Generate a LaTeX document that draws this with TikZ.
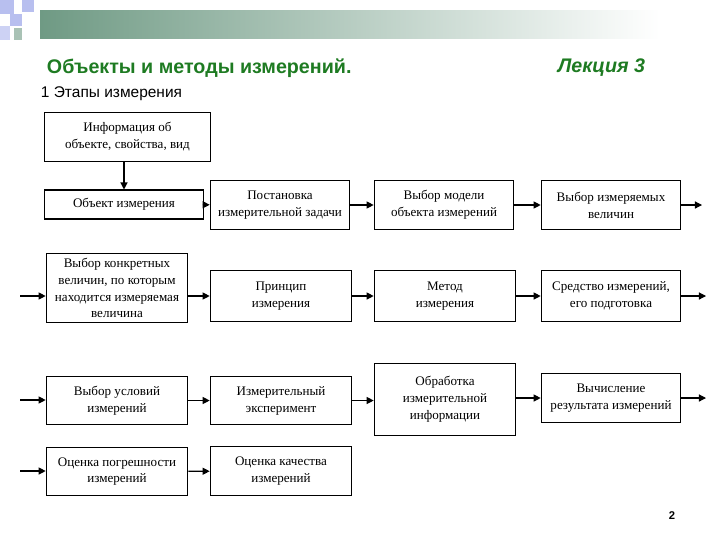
\documentclass[tikz,border=0pt]{standalone}
\usepackage{fontspec}
\setmainfont{Liberation Serif}
\newfontfamily\headfont{Liberation Sans}
\usetikzlibrary{arrows.meta, positioning}
\definecolor{titlegreen}{HTML}{1E7B22}
\definecolor{bargreen}{HTML}{6F9A84}
\definecolor{sqblue}{HTML}{B8BFEF}

\begin{document}
\begin{tikzpicture}[x=0.025cm,y=-0.025cm,
    stage/.style={draw, thick, align=center, inner sep=1pt,
        font=\fontsize{9.3}{12}\selectfont},
    size/.style 2 args={minimum width=#1*0.7087pt, minimum height=#2*0.7087pt},
    flow/.style={-{Triangle[length=5pt,width=5pt]}, thick}]
    \useasboundingbox (0,0) rectangle (720,540);
    % header decoration
    \shade[left color=bargreen, right color=white] (40,10) rectangle (660,38);
    \fill[sqblue] (0,0) rectangle (14,14);
    \fill[sqblue] (22,0) rectangle (34,12);
    \fill[sqblue] (10,14) rectangle (22,26);
    \fill[sqblue!70] (0,26) rectangle (10,40);
    \fill[bargreen!60] (14,28) rectangle (22,40);
    \node[anchor=west, text=titlegreen, font=\headfont\fontsize{14}{16}\selectfont\bfseries]
        (title) at (42,68) {Объекты и методы измерений.};
    \node[anchor=east, text=titlegreen, font=\headfont\fontsize{14}{16}\selectfont\bfseries\itshape]
        (lecture) at (650,68) {Лекция 3};
    \node[anchor=west, font=\headfont\fontsize{11}{13}\selectfont]
        (subtitle) at (36,94) {1 Этапы измерения};

    % row 1
    \node[stage, size={167}{50}] (info) at (127.5,137)
        {Информация об\\объекте, свойства, вид};
    \node[stage, size={160}{29}] (obj) at (124,204.5) {Объект измерения};
    \node[stage, size={140}{50}] (task) at (280,205)
        {Постановка\\измерительной задачи};
    \node[stage, size={140}{50}] (model) at (444,205)
        {Выбор модели\\объекта измерений};
    \node[stage, size={140}{50}] (quant) at (611,205)
        {Выбор измеряемых\\величин};
    \coordinate (out1) at (702,205);

    % row 2
    \coordinate (in2) at (20,296);
    \node[stage, size={142}{70}] (concrete) at (117,288)
        {Выбор конкретных\\величин, по которым\\находится измеряемая\\величина};
    \node[stage, size={142}{52}] (principle) at (281,296)
        {Принцип\\измерения};
    \node[stage, size={142}{52}] (method) at (445,296)
        {Метод\\измерения};
    \node[stage, size={140}{52}] (means) at (611,296)
        {Средство измерений,\\его подготовка};
    \coordinate (out2) at (706,296);

    % row 3
    \coordinate (in3) at (20,400);
    \node[stage, size={142}{49}] (cond) at (117,400.5)
        {Выбор условий\\измерений};
    \node[stage, size={142}{49}] (exper) at (281,400.5)
        {Измерительный\\эксперимент};
    \node[stage, size={142}{73}] (proc) at (445,399.5)
        {Обработка\\измерительной\\информации};
    \node[stage, size={140}{50}] (calc) at (611,398)
        {Вычисление\\результата измерений};
    \coordinate (out3) at (706,398);

    % row 4
    \coordinate (in4) at (20,471);
    \node[stage, size={142}{49}] (error) at (117,471.5)
        {Оценка погрешности\\измерений};
    \node[stage, size={142}{50}] (quality) at (281,471)
        {Оценка качества\\измерений};

    \draw[flow] (info.south -| obj.north) -- (obj.north);
    \draw[flow] (obj) -- (task);
    \draw[flow] (task) -- (model);
    \draw[flow] (model) -- (quant);
    \draw[flow] (quant) -- (out1);
    \draw[flow] (in2) -- (concrete.west |- in2);
    \draw[flow] (concrete.east |- principle) -- (principle);
    \draw[flow] (principle) -- (method);
    \draw[flow] (method) -- (means);
    \draw[flow] (means) -- (out2);
    \draw[flow] (in3) -- (cond.west |- in3);
    \draw[flow] (cond) -- (exper);
    \draw[flow] (exper) -- (proc.west |- exper);
    \draw[flow] (proc.east |- calc) -- (calc);
    \draw[flow] (calc) -- (out3);
    \draw[flow] (in4) -- (error.west |- in4);
    \draw[flow] (error) -- (quality);

    \node[font=\headfont\fontsize{8}{10}\selectfont\bfseries] (page) at (672,516) {2};
\end{tikzpicture}
\end{document}
